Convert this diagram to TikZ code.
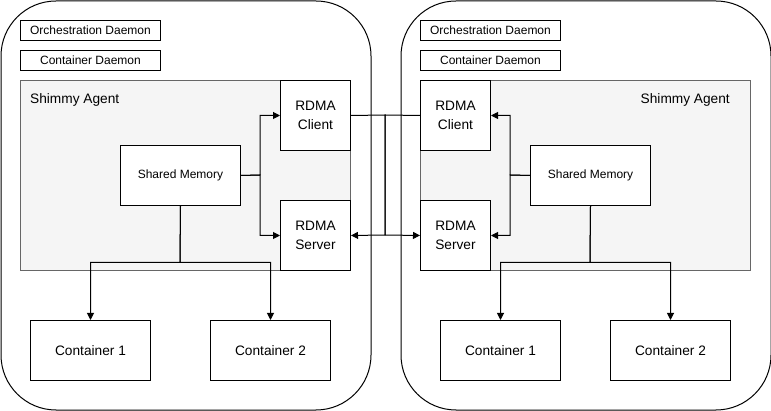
\documentclass[tikz,border=0pt]{standalone}
\usepackage{fontspec}
\setmainfont{Liberation Sans}
\usetikzlibrary{arrows.meta}
\begin{document}
\begin{tikzpicture}[x=1pt,y=-1pt,
  box/.style={draw=black,fill=white,line width=1pt,inner sep=0pt,align=center,anchor=north west},
  agent/.style={draw=black!60,fill=black!4,line width=1pt,anchor=north west,inner sep=0pt},
  outer/.style={draw=black,line width=1pt,rounded corners=55pt,anchor=north west,inner sep=0pt},
  conn/.style={line width=1pt,-{Triangle[length=7pt,width=7pt]}},
  plain/.style={line width=1pt},
  txt/.style={font=\fontsize{13.7}{19}\selectfont},
  small/.style={font=\fontsize{12}{14}\selectfont}]
\useasboundingbox (0,0) rectangle (771,411);
% outer hosts
\node[outer,minimum width=370pt,minimum height=409pt] (hostL) at (0.5,0.5) {};
\node[outer,minimum width=370pt,minimum height=409pt] (hostR) at (400.5,0.5) {};
% daemons
\node[box,small,minimum width=140pt,minimum height=20pt] (orchL) at (20,20) {Orchestration Daemon};
\node[box,small,minimum width=140pt,minimum height=20pt] (contdL) at (20,50) {Container Daemon};
\node[box,small,minimum width=140pt,minimum height=20pt] (orchR) at (420,20) {Orchestration Daemon};
\node[box,small,minimum width=140pt,minimum height=20pt] (contdR) at (420,50) {Container Daemon};
% agents
\node[agent,minimum width=330pt,minimum height=190pt] (agentL) at (20,80) {};
\node[agent,minimum width=330pt,minimum height=190pt] (agentR) at (420,80) {};
\node[txt,anchor=west,inner sep=0pt] (agentLt) at (30,100) {Shimmy Agent};
\node[txt,anchor=east,inner sep=0pt] (agentRt) at (730,100) {Shimmy Agent};
% RDMA
\node[box,txt,minimum width=70pt,minimum height=70pt] (clientL) at (280,80) {RDMA\\Client};
\node[box,txt,minimum width=70pt,minimum height=70pt] (serverL) at (280,200) {RDMA\\Server};
\node[box,txt,minimum width=70pt,minimum height=70pt] (clientR) at (420,80) {RDMA\\Client};
\node[box,txt,minimum width=70pt,minimum height=70pt] (serverR) at (420,200) {RDMA\\Server};
% shared memory
\node[box,small,minimum width=120pt,minimum height=60pt] (shmL) at (120,145) {Shared Memory};
\node[box,small,minimum width=120pt,minimum height=60pt] (shmR) at (530,145) {Shared Memory};
% containers
\node[box,txt,minimum width=120pt,minimum height=60pt] (c1L) at (30,320) {Container 1};
\node[box,txt,minimum width=120pt,minimum height=60pt] (c2L) at (210,320) {Container 2};
\node[box,txt,minimum width=120pt,minimum height=60pt] (c1R) at (440,320) {Container 1};
\node[box,txt,minimum width=120pt,minimum height=60pt] (c2R) at (610,320) {Container 2};
% shared memory to RDMA
\draw[conn] (shmL.east) -- (260,175) |- (clientL.west);
\draw[conn] (shmL.east) -- (260,175) |- (serverL.west);
\draw[conn] (shmR.west) -- (510,175) |- (clientR.east);
\draw[conn] (shmR.west) -- (510,175) |- (serverR.east);
% shared memory to containers
\draw[conn] (shmL.south) -- (180,262.5) -| (c1L.north);
\draw[conn] (shmL.south) -- (180,262.5) -| (c2L.north);
\draw[conn] (shmR.south) -- (590,262.5) -| (c1R.north);
\draw[conn] (shmR.south) -- (590,262.5) -| (c2R.north);
% RDMA links
\draw[conn] (clientL.east) -- (385,115) -- (385,235) -- (serverR.west);
\draw[conn] (clientR.west) -- (385,115) -- (385,235) -- (serverL.east);
\end{tikzpicture}
\end{document}
